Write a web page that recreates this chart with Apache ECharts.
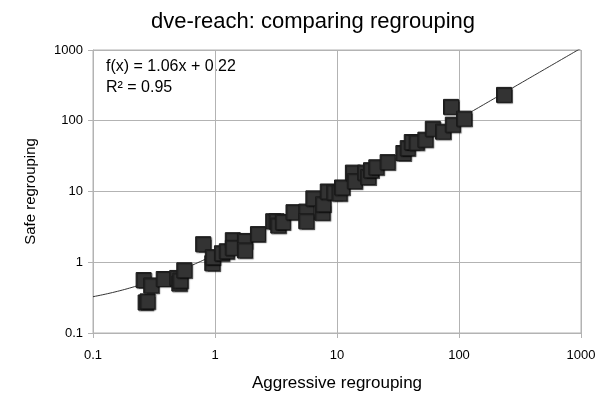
<!DOCTYPE html>
<html>
<head>
<meta charset="utf-8">
<script src="https://cdn.jsdelivr.net/npm/echarts@6/dist/echarts.min.js"></script>
<style>
  html, body { margin: 0; padding: 0; background: #fff; }
  #chart { width: 608px; height: 397px; }
</style>
</head>
<body>
<div id="chart"></div>
<script>
// Run times per test case: aggressive vs safe regrouping
const aggressive = [
  0.26, 0.27, 0.28, 0.30, 0.38, 0.49, 0.51, 0.52, 0.56, 0.80,
  0.95, 0.96, 1.14, 1.25, 1.40, 1.40, 1.76, 1.76, 2.25, 3.0,
  3.2, 3.3, 3.6, 4.4, 5.6, 5.6, 6.4, 7.6, 7.7, 8.4,
  9.5, 10.5, 11, 13.5, 14, 17, 18, 19, 21, 26,
  35, 38, 41, 45, 53, 61, 74, 86, 89, 110,
  234
];
const safe = [
  0.56, 0.27, 0.28, 0.47, 0.58, 0.60, 0.50, 0.55, 0.77, 1.80,
  0.97, 1.18, 1.34, 1.43, 2.05, 1.60, 2.00, 1.47, 2.50, 3.8,
  3.8, 3.3, 3.7, 5.1, 5.2, 3.8, 8.0, 5.0, 6.6, 10.0,
  9.7, 9.4, 11.4, 18.5, 14, 18.5, 16, 20, 22, 26,
  35, 41, 50, 49, 54, 77, 70, 157, 88, 107,
  232
];
const tickLabels = ['0.1', '1', '10', '100', '1000'];

// Linear trend reported for the data set
const slope = 1.06;
const intercept = 0.22;
const rSquared = 0.95;

const points = aggressive.map((x, i) => [x, safe[i]]);

// Sample the fitted line evenly in log space so it reads as a smooth curve
const trend = [];
for (let k = 0; k <= 200; k++) {
  const x = Math.pow(10, -1 + 4 * k / 200);
  trend.push([x, slope * x + intercept]);
}

const gridColor = '#b3b3b3';
const font = '"Liberation Sans", Arial, sans-serif';

function logAxis(name, nameGap, rotate, nameSize, labelMargin) {
  return {
    type: 'log',
    logBase: 10,
    min: 0.1,
    max: 1000,
    name: name,
    nameLocation: 'middle',
    nameGap: nameGap,
    nameRotate: rotate,
    nameTextStyle: { color: '#000', fontSize: nameSize, fontFamily: font },
    axisLine: { show: true, lineStyle: { color: gridColor, width: 1 } },
    axisTick: { show: true, inside: false, length: 5, lineStyle: { color: gridColor } },
    minorTick: { show: false },
    axisLabel: {
      color: '#000', fontSize: 13, fontFamily: font, margin: labelMargin,
      formatter: v => {
        const e = Math.round(Math.log10(v));
        return tickLabels[e + 1];
      }
    },
    splitLine: { show: true, lineStyle: { color: gridColor, width: 1 } }
  };
}

const chart = echarts.init(document.getElementById('chart'), null, { renderer: 'canvas' });
chart.setOption({
  animation: false,
  backgroundColor: '#fff',
  title: {
    text: 'dve-reach: comparing regrouping',
    left: 146,
    top: 6,
    textStyle: { color: '#000', fontSize: 22, fontWeight: 'normal', fontFamily: font }
  },
  grid: { left: 93, right: 27, top: 50, bottom: 63, show: true, borderColor: gridColor, borderWidth: 1 },
  xAxis: logAxis('Aggressive regrouping', 42, 0, 17, 16),
  yAxis: logAxis('Safe regrouping', 55, 90, 15, 10),
  graphic: [
    {
      type: 'text', left: 106, top: 59,
      style: { text: 'f(x) = ' + slope.toFixed(2) + 'x + ' + intercept.toFixed(2), fill: '#000', font: '16px ' + font }
    },
    {
      type: 'text', left: 106, top: 80,
      style: { text: 'R² = ' + rSquared.toFixed(2), fill: '#000', font: '16px ' + font }
    }
  ],
  series: [
    {
      type: 'line',
      data: trend,
      showSymbol: false,
      symbol: 'none',
      clip: true,
      lineStyle: { color: '#333', width: 1 },
      z: 1
    },
    {
      type: 'scatter',
      data: points,
      symbol: 'rect',
      symbolSize: 15,
      itemStyle: {
        color: '#333333',
        opacity: 1,
        borderColor: '#1a1a1a',
        borderWidth: 1,
        shadowColor: 'rgba(0,0,0,0.5)',
        shadowOffsetX: 1,
        shadowOffsetY: 1,
        shadowBlur: 1
      },
      z: 2
    }
  ]
});
</script>
</body>
</html>
